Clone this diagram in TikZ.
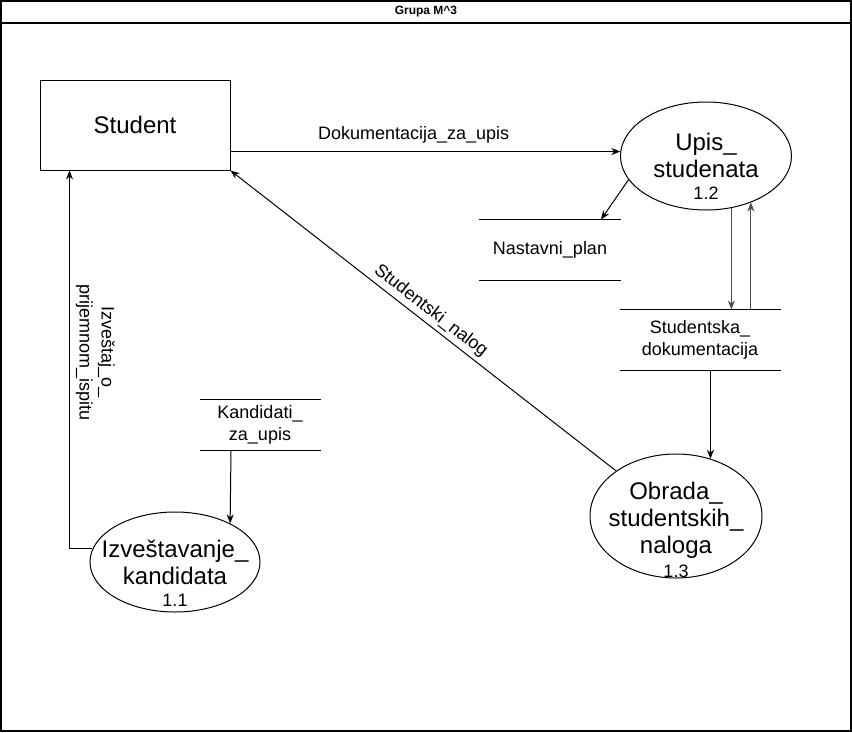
\documentclass[tikz,border=0pt]{standalone}
\usepackage{fontspec}
\setmainfont{Liberation Sans}
\usetikzlibrary{shapes.geometric,calc,arrows.meta}

\begin{document}
\begin{tikzpicture}[x=1pt, y=-1pt, line width=1pt,
  entity/.style={draw, rectangle, minimum width=190, minimum height=90,
    font=\fontsize{24}{28}\selectfont},
  process/.style={draw, ellipse, inner sep=0pt},
  proctext/.style={align=center, inner sep=0pt, font=\fontsize{24}{27}\selectfont},
  store/.style={align=center, inner sep=0pt, font=\fontsize{18}{22}\selectfont},
  flowlabel/.style={font=\fontsize{18}{22}\selectfont, align=center},
  flow/.style={-{Stealth[length=9pt,width=7pt]}},
  num/.style={font=\fontsize{18}{20}\selectfont}]

  \useasboundingbox (0,0) rectangle (852,732);

  % frame
  \draw[line width=1.5pt] (1,1) rectangle (851,731);
  \draw[line width=1.5pt] (1,23) -- (851,23);
  \node[font=\bfseries\fontsize{12}{14}\selectfont] (title) at (426,12) {Grupa M\^{}3};

  % entities and processes
  \node[entity] (student) at (135,125) {Student};
  \node[process, minimum width=171, minimum height=108] (upis) at (706,156) {};
  \node[proctext] (upistxt) at ($(upis.center)+(0,10)$)
    {Upis\_\\studenata\\[-5pt]{\fontsize{18}{20}\selectfont 1.2}};
  \node[process, minimum width=172, minimum height=124] (obrada) at (676,516) {};
  \node[proctext] (obradatxt) at ($(obrada.center)+(0,14)$)
    {Obrada\_\\studentskih\_\\naloga\\[-3pt]{\fontsize{18}{20}\selectfont 1.3}};
  \node[process, minimum width=170, minimum height=100] (izv) at (175,562) {};
  \node[proctext] (izvtxt) at ($(izv.center)+(0,11)$)
    {Izve\v{s}tavanje\_\\kandidata\\[-5pt]{\fontsize{18}{20}\selectfont 1.1}};

  % data stores
  \node[store, minimum width=141, minimum height=60] (plan) at (550,250) {Nastavni\_plan};
  \node[store, minimum width=160, minimum height=60] (studdok) at (700,340)
    {Studentska\_\\dokumentacija};
  \node[store, minimum width=120, minimum height=50] (kand) at (260,425)
    {Kandidati\_\\za\_upis};
  \foreach \s in {plan,studdok,kand}
    \draw (\s.north west) -- (\s.north east) (\s.south west) -- (\s.south east);

  % flows
  \draw[flow] (student.east |- upis.177) -- (upis.177)
    node[flowlabel, pos=0.47, above=4pt] {Dokumentacija\_za\_upis};
  \draw[flow] (upis.197) -- ($(plan.north east)+(-20,0)$);
  \draw[flow, black!70] (upis.-64) -- (upis.-64 |- studdok.north);
  \draw[flow, black!70] (upis.-46 |- studdok.north) -- (upis.-46);
  \draw[flow] (obrada.59 |- studdok.south) -- (obrada.59);
  \draw[flow] (obrada.143) -- (student.south east)
    node[flowlabel, midway, sloped, above] {Studentski\_nalog};
  \draw[flow] ($(kand.south)+(-29,0)$) -- (izv.35);
  \draw[flow] (izv.171) -| ($(student.south west)+(30,0)$)
    node[flowlabel, pos=0.76, rotate=-90, anchor=south, inner sep=6pt]
    {Izve\v{s}taj\_o\_\\prijemnom\_ispitu};
\end{tikzpicture}
\end{document}
